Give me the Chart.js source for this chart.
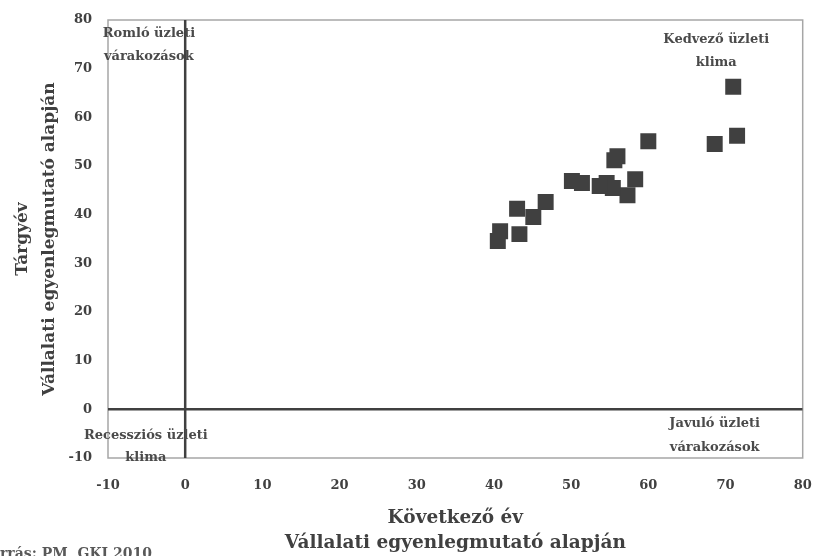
<!DOCTYPE html>
<html>
<head>
<meta charset="utf-8">
<script src="https://cdn.jsdelivr.net/npm/chart.js@4.4.1/dist/chart.umd.min.js"></script>
<style>
  html, body { margin: 0; padding: 0; background: #ffffff; }
  #wrap { width: 814px; height: 556px; position: relative; }
</style>
</head>
<body>
<div id="wrap"><canvas id="c" width="814" height="556"></canvas></div>
<script>
// ---- data ----
const xValues = [71.0, 71.5, 68.6, 60.0, 56.0, 55.6, 58.3, 57.3, 55.4, 54.6, 53.7, 51.4, 50.1, 46.7, 43.0, 45.1, 43.3, 40.8, 40.5];
const yValues = [66.3, 56.2, 54.5, 55.1, 52.0, 51.2, 47.3, 44.0, 45.5, 46.5, 45.9, 46.5, 46.9, 42.6, 41.2, 39.5, 36.0, 36.6, 34.6];
const xTitle = ["Következő év", "Vállalati egyenlegmutató alapján"];
const yTitle = ["Tárgyév", "Vállalati egyenlegmutató alapján"];
const quadrantLabels = [
  { lines: ["Romló üzleti", "várakozások"], x: -4.7, y: [77.3, 72.4] },
  { lines: ["Kedvező üzleti", "klima"], x: 68.8, y: [75.9, 71.2] },
  { lines: ["Recessziós üzleti", "klima"], x: -5.1, y: [-5.3, -10.0] },
  { lines: ["Javuló üzleti", "várakozások"], x: 68.6, y: [-2.9, -7.8] }
];
const sourceText = "Forrás: PM, GKI 2010";

const points = xValues.map((x, i) => ({ x: x, y: yValues[i] }));
const FONT = "'DejaVu Serif', 'Liberation Serif', serif";
const TXT = '#404040';

const frame = {
  id: 'frame',
  beforeDatasetsDraw(chart) {
    const { ctx, chartArea: a } = chart;
    ctx.save();
    ctx.strokeStyle = '#a6a6a6';
    ctx.lineWidth = 1.5;
    ctx.strokeRect(a.left, a.top, a.right - a.left, a.bottom - a.top);
    ctx.restore();
  },
  afterDraw(chart) {
    const { ctx } = chart;
    const xs = chart.scales.x, ys = chart.scales.y;
    ctx.save();
    ctx.fillStyle = '#4a4a4a';
    ctx.font = "bold 13px " + FONT;
    ctx.textAlign = 'center';
    ctx.textBaseline = 'middle';
    quadrantLabels.forEach(q => {
      q.lines.forEach((ln, i) => {
        ctx.fillText(ln, xs.getPixelForValue(q.x), ys.getPixelForValue(q.y[i]));
      });
    });
    ctx.fillStyle = '#595959';
    ctx.textAlign = 'right';
    ctx.textBaseline = 'top';
    ctx.font = "bold 14px " + FONT;
    ctx.fillText(sourceText, 152, 547);
    ctx.restore();
  }
};

new Chart(document.getElementById('c'), {
  type: 'scatter',
  data: {
    datasets: [
      {
        type: 'line',
        data: [{ x: 0, y: -10 }, { x: 0, y: 80 }],
        borderColor: '#404040', borderWidth: 2.5, pointRadius: 0, fill: false
      },
      {
        type: 'line',
        data: [{ x: -10, y: 0 }, { x: 80, y: 0 }],
        borderColor: '#404040', borderWidth: 2.5, pointRadius: 0, fill: false
      },
      {
        data: points,
        pointStyle: 'rect',
        pointRadius: 11.3,
        pointHoverRadius: 11.3,
        backgroundColor: '#404040',
        borderColor: '#404040',
        borderWidth: 0
      }
    ]
  },
  options: {
    responsive: false,
    animation: false,
    layout: { padding: { top: 20, right: 7, left: 0, bottom: 0 } },
    plugins: { legend: { display: false }, tooltip: { enabled: false } },
    scales: {
      x: {
        type: 'linear', min: -10, max: 80,
        afterFit(s) { s.height = 98; s.paddingRight = 0; s.paddingLeft = 0; },
        grid: { display: false, drawTicks: false },
        border: { display: false },
        ticks: { stepSize: 10, padding: 20, color: TXT, font: { family: FONT, weight: 'bold', size: 13 } },
        title: { display: true, text: xTitle, color: TXT, padding: { top: 16, bottom: 0 }, font: { family: FONT, weight: 'bold', size: 18.5, lineHeight: 1.35 } }
      },
      y: {
        type: 'linear', min: -10, max: 80,
        afterFit(s) { s.width = 108; s.paddingTop = 0; s.paddingBottom = 0; },
        grid: { display: false, drawTicks: false },
        border: { display: false },
        ticks: { stepSize: 10, padding: 16, color: TXT, font: { family: FONT, weight: 'bold', size: 13 } },
        title: { display: true, text: yTitle, color: TXT, padding: { top: 9, bottom: 0 }, font: { family: FONT, weight: 'bold', size: 17, lineHeight: 1.6 } }
      }
    }
  },
  plugins: [frame]
});
</script>
</body>
</html>
